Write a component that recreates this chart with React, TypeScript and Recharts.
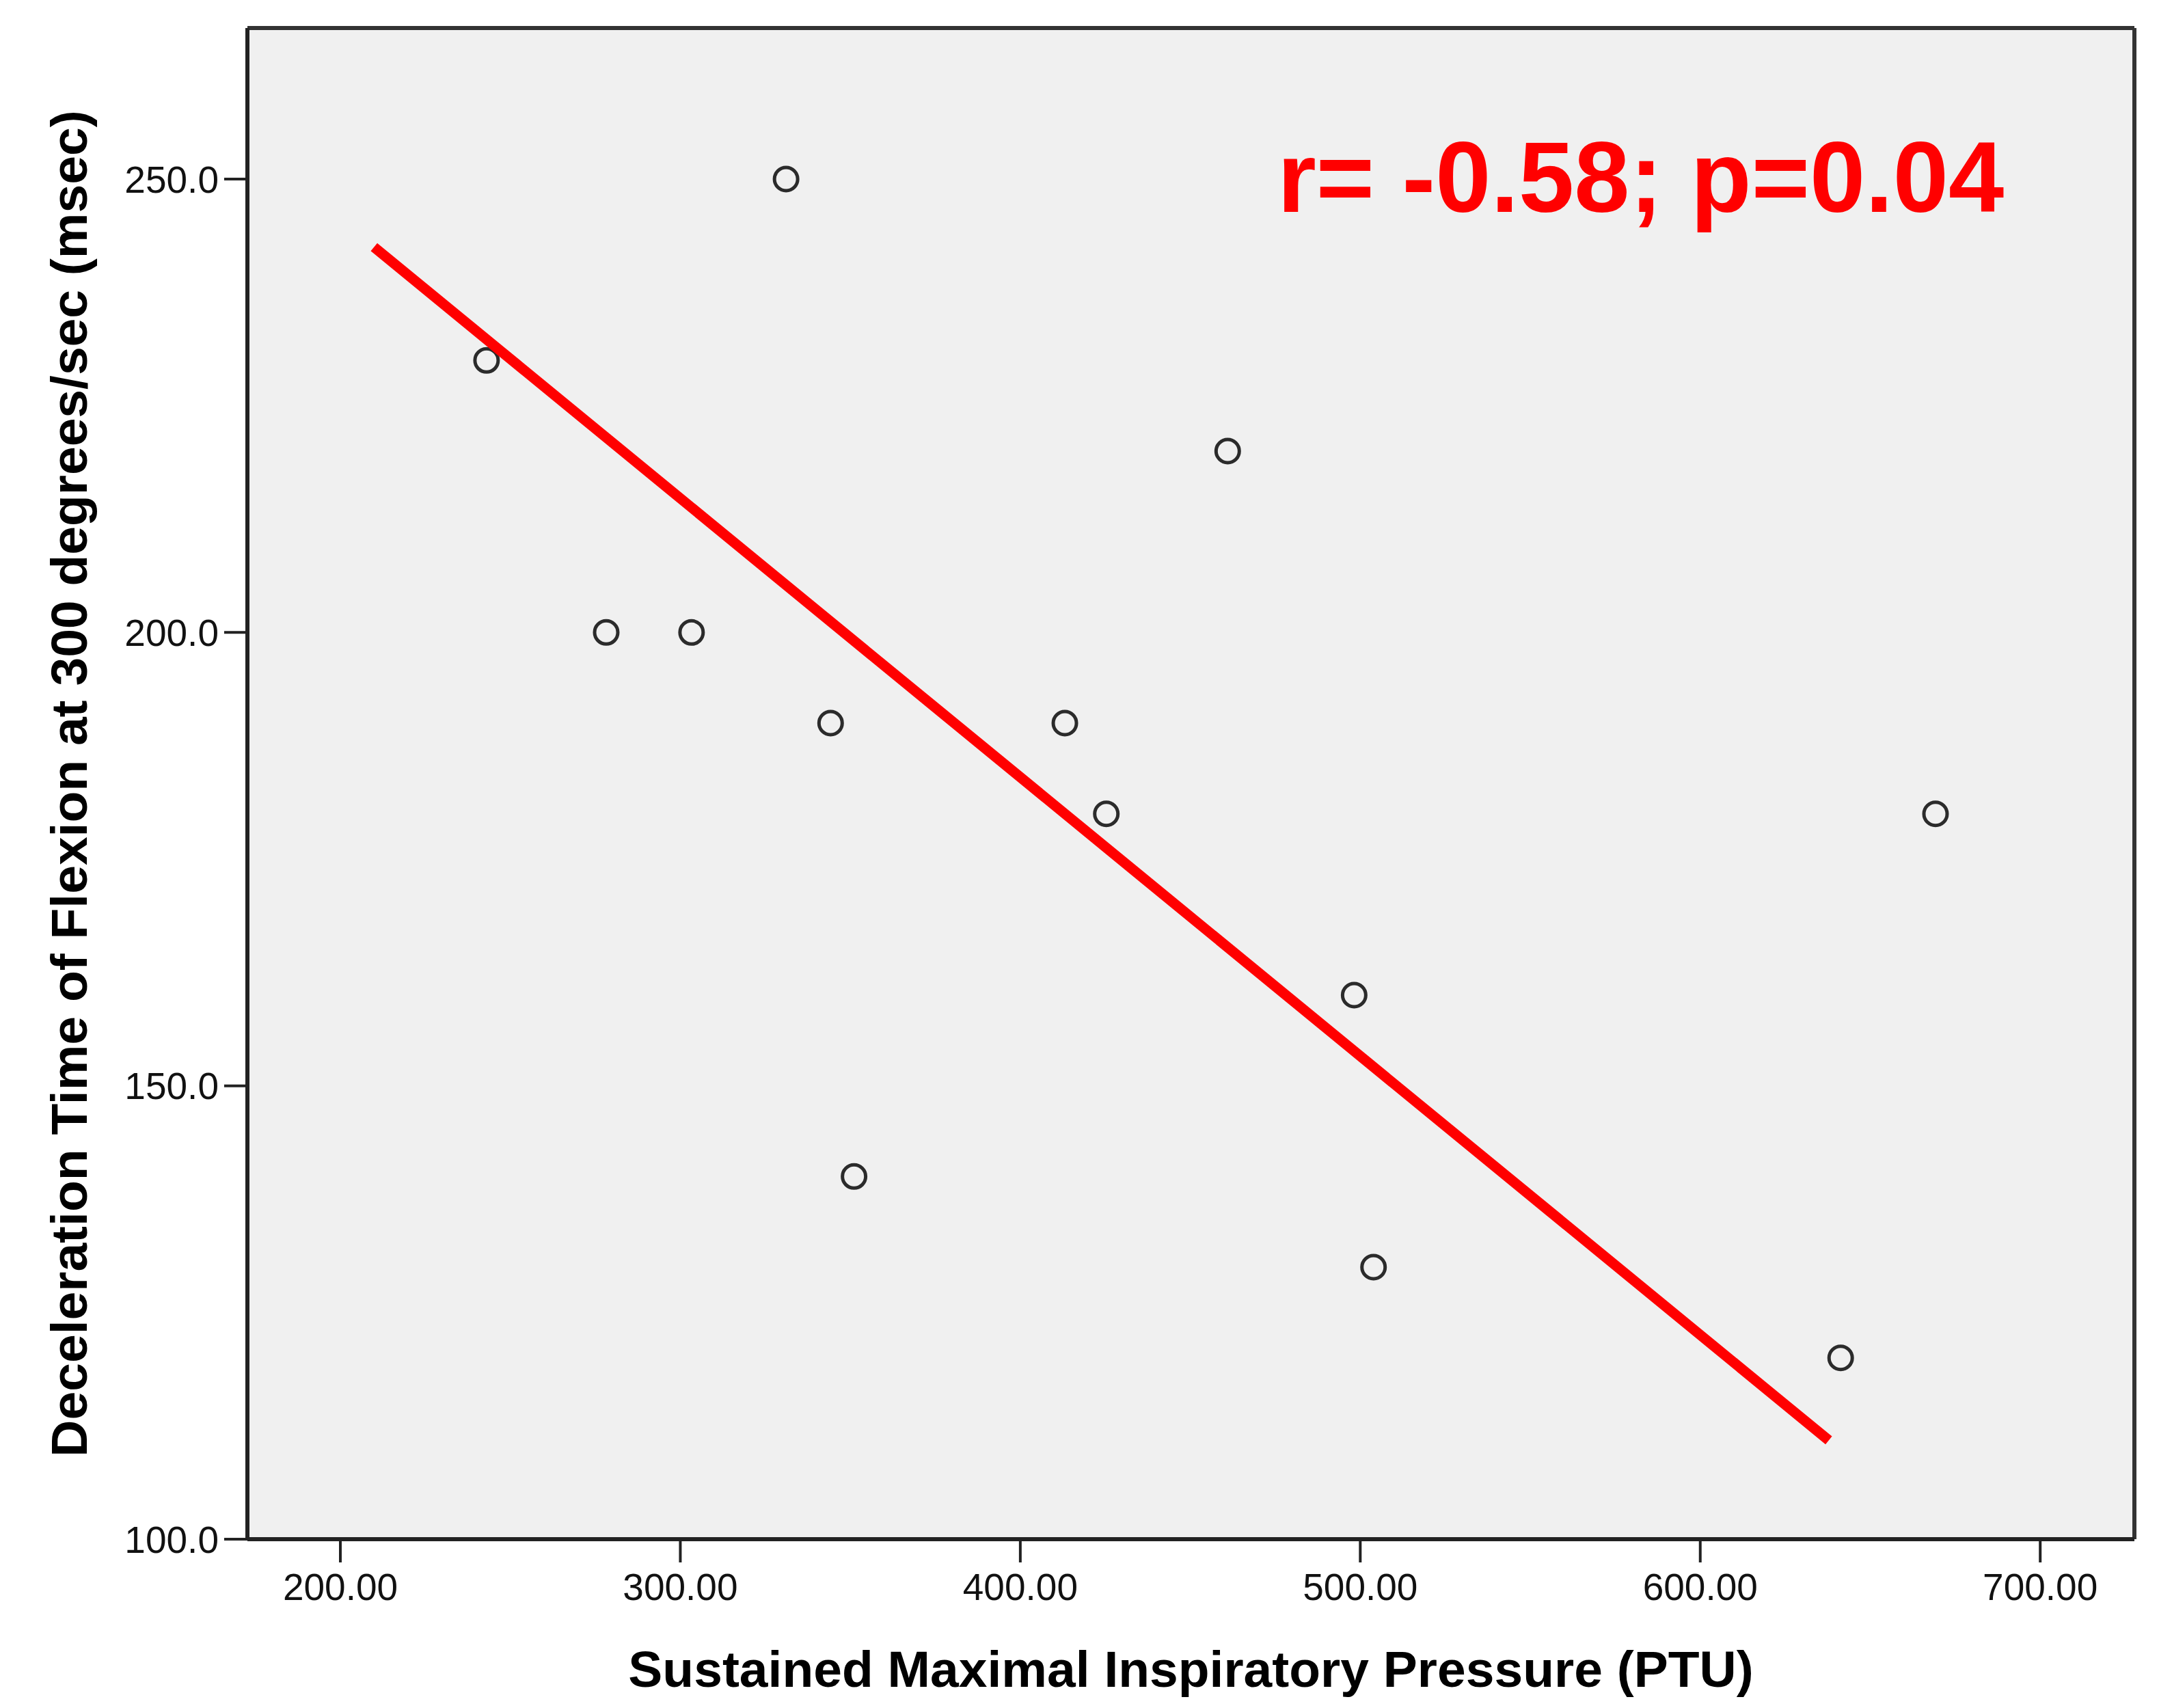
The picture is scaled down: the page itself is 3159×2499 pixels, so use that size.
import React from "react";
import {
  ScatterChart,
  Scatter,
  XAxis,
  YAxis,
  CartesianGrid,
  ReferenceLine,
  ReferenceDot,
} from "recharts";

const pressure = [243, 278.2, 303.3, 331.1, 344.2, 351.1, 413.1, 425.3, 461, 498.2, 503.9, 641.3, 669.2];
const decelTime = [230, 200, 200, 250, 190, 140, 190, 180, 220, 160, 130, 120, 180];

// fit line end points
const fitX = [209.9, 637.8];
const fitY = [242.5, 110.9];

const xTicks = [200, 300, 400, 500, 600, 700];
const yTicks = [100, 150, 200, 250];
const xDomain: [number, number] = [172.66, 727.7];
const yDomain: [number, number] = [100, 266.66];

const annotation = "r= -0.58; p=0.04";
const annotationAt = { x: 475.6, y: 246.4 };

const points = pressure.map((x, i) => ({ x, y: decelTime[i] }));
const fitLine = fitX.map((x, i) => ({ x, y: fitY[i] }));

const FONT = "'Liberation Sans', Arial, sans-serif";
const AXIS = "#222";

const RingDot = (props: any) => (
  <circle cx={props.cx} cy={props.cy} r={17} fill="none" stroke="#2b2b2b" strokeWidth={5} />
);

export default function App() {
  return (
    <div style={{ position: "absolute", left: 0, top: 0, width: 3159, height: 2499, background: "#fff" }}>
      <ScatterChart width={3159} height={2499} margin={{ top: 41, right: 36, bottom: 0, left: 0 }}>
        <CartesianGrid fill="#f0f0f0" stroke="none" horizontal={false} vertical={false} />
        <XAxis
          type="number"
          dataKey="x"
          domain={xDomain}
          ticks={xTicks}
          allowDataOverflow
          height={247}
          tickFormatter={(v) => v.toFixed(2)}
          tick={{ fill: "#111", fontSize: 55, fontFamily: FONT }}
          tickSize={34}
          tickMargin={16}
          axisLine={{ stroke: AXIS, strokeWidth: 6 }}
          tickLine={{ stroke: AXIS, strokeWidth: 4 }}
          label={(p: any) => (
            <text
              x={p.viewBox.x + p.viewBox.width / 2}
              y={p.viewBox.y + 216}
              textAnchor="middle"
              fontFamily={FONT}
              fontWeight="bold"
              fontSize={75}
              fill="#000"
            >
              Sustained Maximal Inspiratory Pressure (PTU)
            </text>
          )}
        />
        <YAxis
          type="number"
          dataKey="y"
          domain={yDomain}
          ticks={yTicks}
          allowDataOverflow
          width={362}
          tickFormatter={(v) => v.toFixed(1)}
          tick={{ fill: "#111", fontSize: 55, fontFamily: FONT }}
          tickSize={34}
          tickMargin={8}
          axisLine={{ stroke: AXIS, strokeWidth: 6 }}
          tickLine={{ stroke: AXIS, strokeWidth: 4 }}
          label={(p: any) => {
            const cx = 127;
            const cy = p.viewBox.y + p.viewBox.height / 2;
            return (
              <text
                x={cx}
                y={cy}
                transform={`rotate(-90 ${cx} ${cy})`}
                textAnchor="middle"
                fontFamily={FONT}
                fontWeight="bold"
                fontSize={75}
                fill="#000"
              >
                Deceleration Time of Flexion at 300 degrees/sec (msec)
              </text>
            );
          }}
        />
        <ReferenceLine y={yDomain[1]} stroke="#333" strokeWidth={6} />
        <ReferenceLine x={xDomain[1]} stroke="#333" strokeWidth={6} />
        <Scatter data={points} shape={RingDot} isAnimationActive={false} />
        <Scatter
          data={fitLine}
          line={{ stroke: "#ff0000", strokeWidth: 15 }}
          shape={() => <g />}
          isAnimationActive={false}
        />
        <ReferenceDot
          x={annotationAt.x}
          y={annotationAt.y}
          r={1}
          fill="none"
          stroke="none"
          label={(p: any) => (
            <text
              x={p.viewBox.x + p.viewBox.width / 2}
              y={p.viewBox.y + p.viewBox.height / 2}
              fontFamily={FONT}
              fontWeight="bold"
              fontSize={146}
              fill="#ff0000"
            >
              {annotation}
            </text>
          )}
        />
      </ScatterChart>
    </div>
  );
}
